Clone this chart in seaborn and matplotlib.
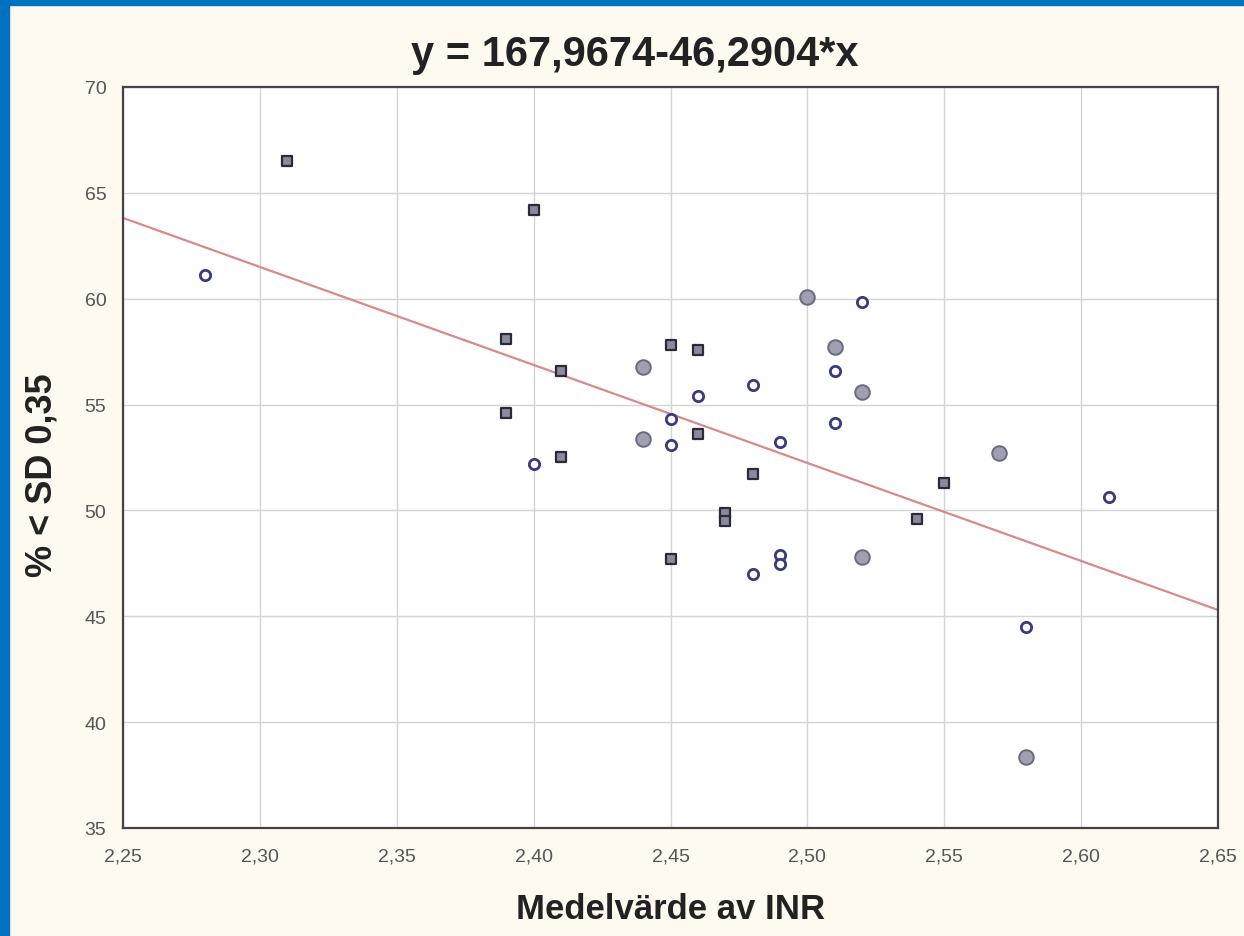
import numpy as np
import pandas as pd
import seaborn as sns
import matplotlib.pyplot as plt
from matplotlib.patches import Rectangle

# Data
square_x = [2.31, 2.40, 2.39, 2.39, 2.41, 2.41, 2.45, 2.45, 2.46, 2.46, 2.47, 2.47, 2.48, 2.54, 2.55]
square_y = [66.5, 64.2, 58.1, 54.6, 56.6, 52.5, 57.8, 47.7, 57.6, 53.6, 49.9, 49.5, 51.7, 49.6, 51.3]

circle_x = [2.28, 2.40, 2.45, 2.45, 2.46, 2.48, 2.48, 2.49, 2.49, 2.49, 2.51, 2.51, 2.52, 2.58, 2.61]
circle_y = [61.1, 52.2, 54.3, 53.1, 55.4, 55.9, 47.0, 53.25, 47.9, 47.45, 56.6, 54.15, 59.85, 44.5, 50.65]

grey_x = [2.44, 2.44, 2.50, 2.51, 2.52, 2.52, 2.57, 2.58]
grey_y = [56.75, 53.35, 60.1, 57.7, 55.6, 47.8, 52.7, 38.35]

intercept = 167.9674
slope = -46.2904

x_ticks = [2.25, 2.30, 2.35, 2.40, 2.45, 2.50, 2.55, 2.60, 2.65]
x_ticklabels = ['2,25', '2,30', '2,35', '2,40', '2,45', '2,50', '2,55', '2,60', '2,65']
y_ticks = [35, 40, 45, 50, 55, 60, 65, 70]

sns.set_style('white')
plt.rcParams['font.family'] = ['Liberation Sans Narrow', 'Liberation Sans', 'DejaVu Sans']

bg = '#fffaf0'
fig = plt.figure(figsize=(12.44, 9.37), dpi=100, facecolor=bg)
ax = fig.add_axes([0.0989, 0.1153, 0.8802, 0.7908])
ax.set_facecolor('white')

# blue frame on left and top
fig.patches.append(Rectangle((0, 0), 9 / 1244, 1, transform=fig.transFigure, color='#0070c0', zorder=0))
fig.patches.append(Rectangle((0, 1 - 6 / 937), 1, 6 / 937, transform=fig.transFigure, color='#0070c0', zorder=0))

ax.grid(True, color='#d4d4d4', lw=1.0)
ax.set_axisbelow(True)

# regression line across full x range
line_x = np.array([2.25, 2.65])
ax.plot(line_x, intercept + slope * line_x, color='#d88a8a', lw=1.6, zorder=2)

sq = pd.DataFrame({'x': square_x, 'y': square_y})
ci = pd.DataFrame({'x': circle_x, 'y': circle_y})
gr = pd.DataFrame({'x': grey_x, 'y': grey_y})

sns.scatterplot(data=sq, x='x', y='y', ax=ax, marker='s', s=55, color='#8a8a9a',
                edgecolor='#2a2a3a', linewidth=1.6, zorder=3)
sns.scatterplot(data=ci, x='x', y='y', ax=ax, marker='o', s=55, color='white',
                edgecolor='#3a3a80', linewidth=2.0, zorder=3)
sns.scatterplot(data=gr, x='x', y='y', ax=ax, marker='o', s=110, color='#a0a0b0',
                edgecolor='#6a6a80', linewidth=1.4, zorder=3)

ax.set_xlim(2.25, 2.65)
ax.set_ylim(35, 70)
ax.set_xticks(x_ticks)
ax.set_xticklabels(x_ticklabels)
ax.set_yticks(y_ticks)

for s in ax.spines.values():
    s.set_color('#444444')
    s.set_linewidth(1.6)
ax.tick_params(direction='in', length=6, width=1.2, colors='#444444',
               labelsize=14, labelcolor='#555555')
ax.tick_params(axis='x', pad=14)
ax.tick_params(axis='y', pad=12)

ax.set_title('y = 167,9674-46,2904*x', fontsize=30, fontweight='bold', color='#222222',
             x=0.467, pad=16)
ax.set_xlabel('Medelvärde av INR', fontsize=25, fontweight='bold', color='#222222', labelpad=20)
ax.set_ylabel('% < SD 0,35', fontsize=26, fontweight='bold', color='#222222')
ax.yaxis.set_label_coords(-0.058, 0.478)

fig.savefig('out.png', dpi=100, facecolor=bg)
